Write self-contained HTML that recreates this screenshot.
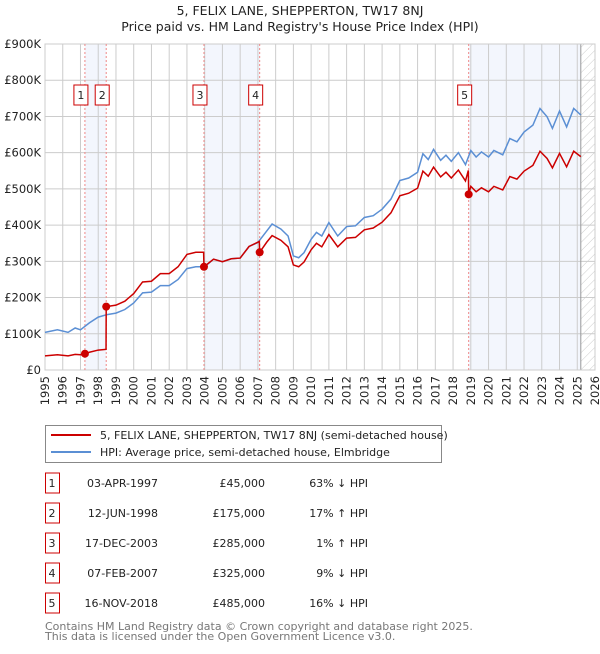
<!DOCTYPE html>
<html><head><meta charset="utf-8"><style>
body{margin:0;background:#fff;font-family:"DejaVu Sans","Liberation Sans",sans-serif;}
svg text{font-family:"DejaVu Sans","Liberation Sans",sans-serif;}
</style></head><body>
<svg id="chart" width="600" height="650" xmlns="http://www.w3.org/2000/svg">
<defs><pattern id="hatch" patternUnits="userSpaceOnUse" width="6" height="6" patternTransform="rotate(45)"><line x1="0" y1="0" x2="0" y2="6" stroke="#ccc" stroke-width="1"/></pattern></defs>
<text x="300" y="15" text-anchor="middle" font-size="12.5" fill="#222">5, FELIX LANE, SHEPPERTON, TW17 8NJ</text>
<text x="300" y="31" text-anchor="middle" font-size="12.5" fill="#222">Price paid vs. HM Land Registry's House Price Index (HPI)</text>
<g id="plot"></g>
<g>
<rect x="45.5" y="425.5" width="396" height="37" fill="#fff" stroke="#888"/>
<line x1="51" y1="435" x2="91" y2="435" stroke="#cc0000" stroke-width="2"/>
<text x="100" y="439" font-size="11" fill="#222">5, FELIX LANE, SHEPPERTON, TW17 8NJ (semi-detached house)</text>
<line x1="51" y1="452" x2="91" y2="452" stroke="#5b8fd4" stroke-width="2"/>
<text x="100" y="456" font-size="11" fill="#222">HPI: Average price, semi-detached house, Elmbridge</text>
</g>
<g id="table"></g>
<text x="45" y="630" font-size="11" fill="#777">Contains HM Land Registry data © Crown copyright and database right 2025.</text>
<text x="45" y="640" font-size="11" fill="#777">This data is licensed under the Open Government Licence v3.0.</text>
</svg>
<script>
const hpiYears=[1995,1995.7,1996.3,1996.7,1997,1997.5,1998,1998.5,1999,1999.5,2000,2000.5,2001,2001.5,2002,2002.5,2003,2003.5,2004,2004.5,2005,2005.5,2006,2006.5,2007,2007.5,2007.8,2008.3,2008.7,2009,2009.3,2009.6,2010,2010.3,2010.6,2011,2011.5,2012,2012.5,2013,2013.5,2014,2014.5,2015,2015.5,2016,2016.3,2016.6,2016.9,2017.3,2017.6,2017.9,2018.3,2018.7,2019,2019.3,2019.6,2020,2020.3,2020.8,2021.2,2021.6,2022,2022.5,2022.9,2023.3,2023.6,2024,2024.4,2024.8,2025.2];
const hpiValues=[104,111,104,116,111,130,146,153,157,167,185,213,215,233,233,250,280,285,285,306,299,307,309,341,352,384,403,389,370,315,310,324,361,380,370,407,370,396,398,421,426,444,472,523,530,546,597,581,609,579,593,576,600,567,606,588,602,588,606,594,639,630,657,676,722,699,667,715,671,722,704];
const redYears=[1995,1995.7,1996.3,1996.7,1997,1997.25,1997.5,1998,1998.44,1998.45,1999,1999.5,2000,2000.5,2001,2001.5,2002,2002.5,2003,2003.5,2003.94,2003.96,2004.5,2005,2005.5,2006,2006.5,2007.08,2007.1,2007.5,2007.8,2008.3,2008.7,2009,2009.3,2009.6,2010,2010.3,2010.6,2011,2011.5,2012,2012.5,2013,2013.5,2014,2014.5,2015,2015.5,2016,2016.3,2016.6,2016.9,2017.3,2017.6,2017.9,2018.3,2018.7,2018.86,2018.88,2019,2019.3,2019.6,2020,2020.3,2020.8,2021.2,2021.6,2022,2022.5,2022.9,2023.3,2023.6,2024,2024.4,2024.8,2025.2];
const redValues=[39,42,39,43,42,45,49,55,57,175,179,190,211,243,245,266,266,285,319,325,325,285,306,299,307,309,341,355,325,353,371,358,340,290,285,298,332,350,340,374,340,364,366,387,392,408,434,481,488,502,549,535,560,533,546,530,552,522,551,485,507,492,503,492,507,497,534,527,549,565,604,584,558,598,561,604,589];
const saleLabels=["1","2","3","4","5"];
const saleDates=["03-APR-1997","12-JUN-1998","17-DEC-2003","07-FEB-2007","16-NOV-2018"];
const saleYears=[1997.25,1998.45,2003.96,2007.1,2018.88];
const salePrices=[45000,175000,285000,325000,485000];
const saleDiffs=["63% \u2193 HPI","17% \u2191 HPI","1% \u2191 HPI","9% \u2193 HPI","16% \u2193 HPI"];
const yTicks=[0,100,200,300,400,500,600,700,800,900];
const yTickLabels=["£0","£100K","£200K","£300K","£400K","£500K","£600K","£700K","£800K","£900K"];
const xTicks=[1995,1996,1997,1998,1999,2000,2001,2002,2003,2004,2005,2006,2007,2008,2009,2010,2011,2012,2013,2014,2015,2016,2017,2018,2019,2020,2021,2022,2023,2024,2025,2026];
const dataEnd=2025.2;

const NS="http://www.w3.org/2000/svg";
const L=45,R=595,T=44,B=370;
const xs=y=>L+(y-1995)/(2026-1995)*(R-L);
const ys=v=>B-v/900*(B-T);
const plot=document.getElementById('plot');
function mk(tag,attrs,parent){const e=document.createElementNS(NS,tag);for(const k in attrs)e.setAttribute(k,attrs[k]);(parent||plot).appendChild(e);return e;}

for(let i=0;i<saleYears.length;i+=2){
  const x1=xs(saleYears[i]), x2=i+1<saleYears.length?xs(saleYears[i+1]):xs(dataEnd);
  const r=mk('rect',{x:x1,y:T,width:x2-x1,height:B-T,fill:'#f3f6fd'});
  
  
}
const h=mk('rect',{x:xs(dataEnd),y:T,width:R-xs(dataEnd),height:B-T,fill:'url(#hatch)'});


yTicks.forEach((v,i)=>{
  const g=mk('line',{x1:L,x2:R,y1:ys(v),y2:ys(v),stroke:'#ccc','stroke-width':1});
  
  
  const t=mk('text',{x:L-4,y:ys(v)+4,'text-anchor':'end','font-size':11.5,fill:'#222'});
  t.textContent=yTickLabels[i];
  
  
});
xTicks.forEach(y=>{
  const g=mk('line',{x1:xs(y),x2:xs(y),y1:T,y2:B,stroke:'#ccc','stroke-width':1});
  
  
  const t=mk('text',{x:0,y:0,'text-anchor':'end','font-size':11.5,fill:'#222',transform:`translate(${xs(y)+4},${B+6}) rotate(-90)`});
  t.textContent=y;
  
  
});
mk('line',{x1:xs(dataEnd),x2:xs(dataEnd),y1:T,y2:B,stroke:'#999','stroke-width':1});
mk('rect',{x:L,y:T,width:R-L,height:B-T,fill:'none',stroke:'#ccc'});
saleYears.forEach((y,i)=>{
  const l=mk('line',{x1:xs(y),x2:xs(y),y1:T,y2:B,stroke:'#e88','stroke-width':1,'stroke-dasharray':'2,2'});
  
  
  const bx=xs(y)-4;
  const r=mk('rect',{x:bx-7,y:85,width:14,height:20,fill:'#fff',stroke:'#cc0000'});
  
  
  const t=mk('text',{x:bx,y:99,'text-anchor':'middle','font-size':11,fill:'#222'});
  t.textContent=saleLabels[i];
  
  
});
const hp=mk('polyline',{points:hpiYears.map((y,i)=>xs(y)+','+ys(hpiValues[i])).join(' '),fill:'none',stroke:'#5b8fd4','stroke-width':1.5});


const rp=mk('polyline',{points:redYears.map((y,i)=>xs(y)+','+ys(redValues[i])).join(' '),fill:'none',stroke:'#cc0000','stroke-width':1.5});


saleYears.forEach((y,i)=>{
  const c=mk('circle',{cx:xs(y),cy:ys(salePrices[i]/1000),r:4,fill:'#cc0000'});
  
  
});
const tb=document.getElementById('table');
saleLabels.forEach((lab,i)=>{
  const cy=483+i*30;
  const r=mk('rect',{x:45.5,y:cy-10,width:14,height:20,fill:'#fff',stroke:'#cc0000'},tb);
  
  
  const cols=[[52,'middle',lab],[158,'end',saleDates[i]],[265,'end','£'+salePrices[i].toLocaleString('en-GB')],[368,'end',saleDiffs[i]]];
  cols.forEach(c=>{
    const t=mk('text',{x:c[0],y:cy+4,'text-anchor':c[1],'font-size':11,fill:'#222'},tb);
    t.textContent=c[2];
    
    
  });
});
</script>
</body></html>
